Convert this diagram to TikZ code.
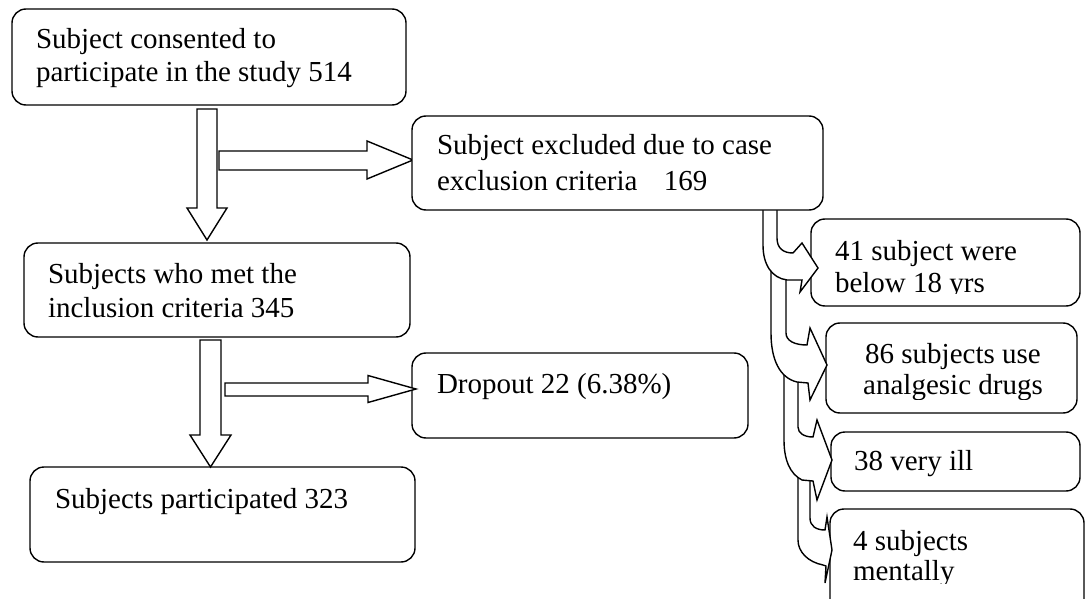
\documentclass[tikz,border=0pt]{standalone}
\usepackage{fontspec}
\setmainfont{Liberation Serif}
\usetikzlibrary{calc}
\tikzset{
  box/.style={draw, line width=1.4pt, rounded corners=14pt, fill=white, inner sep=0pt, outer sep=0pt, anchor=north west},
  txt/.style={anchor=base west, inner sep=0pt, outer sep=0pt, font=\fontsize{29}{33}\selectfont},
  blk/.style={draw, line width=1.4pt, fill=white, line join=miter},
  curv/.style={draw, line width=1.4pt, fill=white, line join=miter},
}
\begin{document}
\begin{tikzpicture}[x=1pt,y=-1pt]
\useasboundingbox (0,0) rectangle (1085,599);
\clip (0,0) rectangle (1085,599);

% left column boxes
\node[box, minimum width=394pt, minimum height=96pt] (b1) at (12,9) {};
\node[box, minimum width=386pt, minimum height=94pt] (b2) at (24,243) {};
\node[box, minimum width=385pt, minimum height=95pt] (b3) at (30,467) {};
\node[box, minimum width=336pt, minimum height=85pt] (b5) at (412,353) {};

% right column boxes
\node[box, minimum width=269pt, minimum height=87pt] (b6) at (811,219) {};
\node[box, minimum width=251pt, minimum height=90pt] (b7) at (826,323) {};
\node[box, minimum width=249pt, minimum height=59pt] (b8) at (831,432) {};
\node[box, minimum width=254pt, minimum height=120pt] (b9) at (830,509) {};

% block arrows
\coordinate (A0) at (207,109);   \coordinate (A1) at (207,240);
\coordinate (B0) at (219,160.5); \coordinate (B1) at (413,160);
\coordinate (C0) at (210.5,340); \coordinate (C1) at (210.5,467);
\coordinate (D0) at (225,389.5); \coordinate (D1) at (416,389);

\draw[blk] let \p1=(A0), \p2=(A1) in
  (\x1-10pt,\y1) -- (\x1+10pt,\y1) -- (\x1+10pt,\y2+32pt) -- (\x1+20pt,\y2+32pt)
  -- (\x2,\y2) -- (\x1-20pt,\y2+32pt) -- (\x1-10pt,\y2+32pt) -- cycle;
\draw[blk] let \p1=(B0), \p2=(B1) in
  (\x1,\y1+9.5pt) -- (\x2-46pt,\y1+9.5pt) -- (\x2-46pt,\y2+19pt) -- (\x2,\y2)
  -- (\x2-46pt,\y2-19pt) -- (\x2-46pt,\y1-9.5pt) -- (\x1,\y1-9.5pt) -- cycle;
\draw[blk] let \p1=(C0), \p2=(C1) in
  (\x1-10.5pt,\y1) -- (\x1+10.5pt,\y1) -- (\x1+10.5pt,\y2+32pt) -- (\x1+20.5pt,\y2+32pt)
  -- (\x2,\y2) -- (\x1-20.5pt,\y2+32pt) -- (\x1-10.5pt,\y2+32pt) -- cycle;
\draw[blk] let \p1=(D0), \p2=(D1) in
  (\x1,\y1+6.5pt) -- (\x2-48pt,\y1+6.5pt) -- (\x2-48pt,\y2+13.5pt) -- (\x2,\y2)
  -- (\x2-48pt,\y2-13.5pt) -- (\x2-48pt,\y1-6.5pt) -- (\x1,\y1-6.5pt) -- cycle;

% curved arrows (drawn bottom one first)
\draw[curv] (810,465) -- (810,518) .. controls (810,526) and (816,530) .. (825,530)
  -- (827,517) -- (832,550) -- (825,583) -- (826,566) -- (823,565)
  .. controls (808,562) and (798,552) .. (798,540) -- (798,465) -- cycle;
\draw[curv] (798,365) -- (798,427) .. controls (798,433) and (804,437) .. (813,437)
  -- (817,420) -- (832,460) -- (817,500) -- (813,481) -- (802,480)
  .. controls (790,474) and (784,460) .. (784,440) -- (784,365) -- cycle;
\draw[curv] (786,258) -- (786,333) .. controls (786,341) and (795,345) .. (807,345)
  -- (810,328) -- (827,365) -- (810,400) -- (808,383) -- (797,382)
  .. controls (780,378) and (771,360) .. (771,333) -- (771,258) -- cycle;
\draw[curv] (777,200) -- (777,238) .. controls (777,248) and (783,253) .. (793,253)
  -- (802,243) -- (818,268) -- (800,292) -- (802,280) -- (787,280)
  .. controls (772,278) and (763,265) .. (763,245) -- (763,200) -- cycle;

% box covering the tops of the curved arrows
\node[box, minimum width=411pt, minimum height=94pt] (b4) at (412,116) {};

% texts
\node[txt] (t1a) at (36,49) {Subject consented to};
\node[txt] (t1b) at (36,82) {participate in the study 514};
\node[txt] (t2a) at (48,283) {Subjects who met the};
\node[txt] (t2b) at (48,317) {inclusion criteria 345};
\node[txt] (t3) at (55,508) {Subjects participated 323};
\node[txt] (t4a) at (437,155) {Subject excluded due to case};
\node[txt] (t4b) at (437,190) {exclusion criteria\hspace{19pt} 169};
\node[txt] (t5) at (437,393) {Dropout 22 (6.38\%)};
\begin{scope}
  \clip (811,219) rectangle (1080,293);
  \node[txt] (t6a) at (835,260) {41 subject were};
  \node[txt] (t6b) at (835,292) {below 18 yrs};
\end{scope}
\begin{scope}
  \clip (826,323) rectangle (1077,399);
  \node[txt, anchor=base] (t7a) at (953,363) {86 subjects use};
  \node[txt, anchor=base] (t7b) at (953,394) {analgesic drugs};
\end{scope}
\node[txt] (t8) at (854,470) {38 very ill};
\begin{scope}
  \clip (830,509) rectangle (1085,583);
  \node[txt] (t9a) at (853,550) {4 subjects};
  \node[txt] (t9b) at (853,580) {mentally};
\end{scope}
\end{tikzpicture}
\end{document}
